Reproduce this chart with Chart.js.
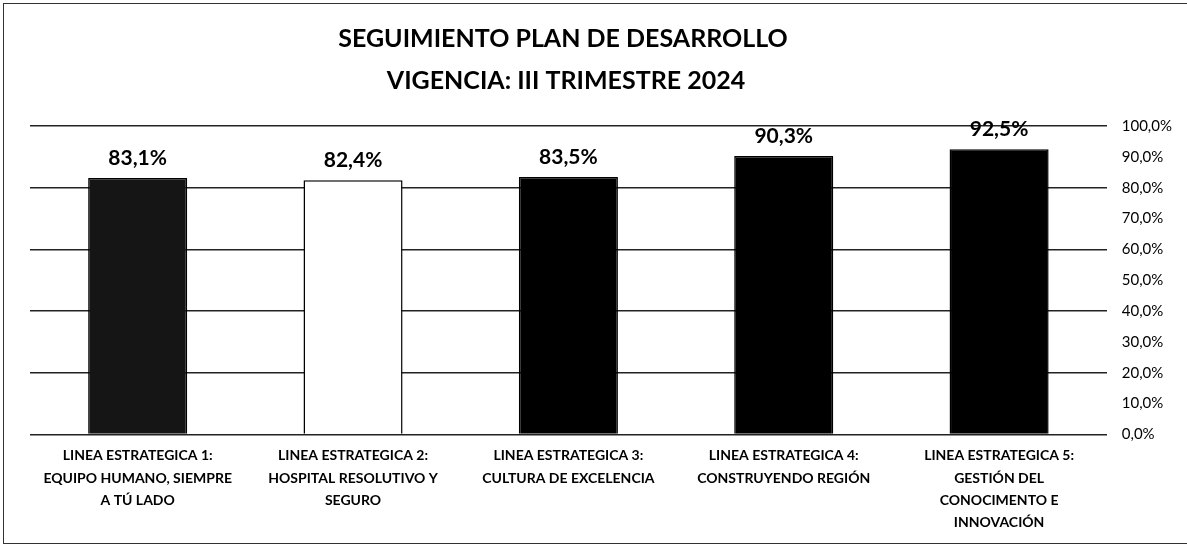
<!DOCTYPE html>
<html>
<head>
<meta charset="utf-8">
<script src="https://cdn.jsdelivr.net/npm/chart.js@4"></script>
<style>
  html, body { margin: 0; padding: 0; background: #fff; }
  #wrap { position: absolute; left: 0; top: 0; width: 1187px; height: 547px; }
  #frame { position: absolute; left: 3px; top: 3px; width: 1190px; height: 541px; border-left: 1px solid #333; border-top: 1px solid #333; border-bottom: 1px solid #333; box-sizing: border-box; pointer-events: none; }
</style>
</head>
<body>
<div id="wrap">
  <canvas id="c" width="1187" height="547"></canvas>
  <div id="frame"></div>
</div>
<script>
const titleLines = ["SEGUIMIENTO PLAN DE DESARROLLO", "VIGENCIA: III TRIMESTRE 2024"];
const categories = [
  ["LINEA ESTRATEGICA 1:", "EQUIPO HUMANO, SIEMPRE", "A TÚ LADO"],
  ["LINEA ESTRATEGICA 2:", "HOSPITAL RESOLUTIVO Y", "SEGURO"],
  ["LINEA ESTRATEGICA 3:", "CULTURA DE EXCELENCIA"],
  ["LINEA ESTRATEGICA 4:", "CONSTRUYENDO REGIÓN"],
  ["LINEA ESTRATEGICA 5:", "GESTIÓN DEL", "CONOCIMENTO E", "INNOVACIÓN"]
];
const values = [83.1, 82.4, 83.5, 90.3, 92.5];
const barColors = ["#151515", "#ffffff", "#000000", "#000000", "#000000"];
const yTicks = { min: 0, max: 100, step: 10 };

const FONT = 'Lato, "Liberation Sans", sans-serif';
const fmt = v => v.toFixed(1).replace('.', ',') + '%';

const valueLabels = {
  id: 'valueLabels',
  afterDatasetsDraw(chart) {
    const ctx = chart.ctx;
    const meta = chart.getDatasetMeta(0);
    ctx.save();
    ctx.font = 'bold 21px ' + FONT;
    ctx.fillStyle = '#000';
    ctx.textAlign = 'center';
    ctx.textBaseline = 'middle';
    meta.data.forEach((bar, i) => {
      ctx.fillText(fmt(values[i]), bar.x, bar.y - 20);
    });
    ctx.restore();
  }
};

const titleDraw = {
  id: 'titleDraw',
  afterDraw(chart) {
    const ctx = chart.ctx;
    ctx.save();
    ctx.font = 'bold 25px ' + FONT;
    ctx.fillStyle = '#000';
    ctx.textAlign = 'center';
    ctx.textBaseline = 'middle';
    ctx.fillText(titleLines[0], 563, 39);
    ctx.fillText(titleLines[1], 566, 81);
    ctx.restore();
  }
};

new Chart(document.getElementById('c'), {
  type: 'bar',
  data: {
    labels: categories,
    datasets: [{
      data: values,
      backgroundColor: barColors,
      borderColor: '#000',
      borderWidth: 1.5,
      barPercentage: 0.46,
      categoryPercentage: 1.0
    }]
  },
  options: {
    responsive: false,
    animation: false,
    layout: { padding: { left: 30, right: 0, top: 126, bottom: 3 } },
    plugins: {
      legend: { display: false },
      tooltip: { enabled: false },
      title: { display: false }
    },
    scales: {
      x: {
        grid: { display: false, drawTicks: false },
        border: { display: false },
        ticks: {
          color: '#000',
          maxRotation: 0,
          autoSkip: false,
          padding: 10,
          font: { family: FONT, size: 14, weight: 'bold', lineHeight: 1.6 }
        }
      },
      y: {
        position: 'right',
        min: yTicks.min,
        max: yTicks.max,
        border: { display: false },
        grid: {
          drawTicks: false,
          lineWidth: 1.5,
          color: c => (c.tick && c.tick.value % 20 === 0) ? '#222' : 'rgba(0,0,0,0)'
        },
        ticks: {
          stepSize: yTicks.step,
          color: '#000',
          padding: 15,
          font: { family: FONT, size: 15 },
          callback: v => fmt(v)
        }
      }
    }
  },
  plugins: [valueLabels, titleDraw]
});
</script>
</body>
</html>
